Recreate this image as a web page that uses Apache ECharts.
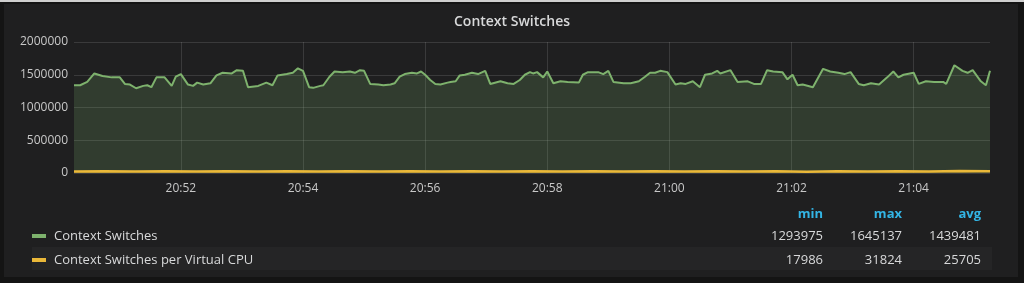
<!DOCTYPE html>
<html>
<head>
<meta charset="utf-8">
<script src="https://cdn.jsdelivr.net/npm/echarts@6/dist/echarts.min.js"></script>
<style>
html,body{margin:0;padding:0;background:#141414;}
#c{width:1024px;height:283px;}
</style>
</head>
<body>
<div id="c"></div>
<script>
// seconds after 20:50:00 and values for "Context Switches"
const csSecs = [15,21,28,35,43,52,60,65,70,76,83,87,91,96,104,111,115,120,127,132,136,142,149,155,161,170,175,181,186,196,204,210,215,224,230,235,240,246,250,257,260,266,271,279,286,291,296,300,306,314,319,326,330,335,340,347,352,356,360,365,370,375,382,385,390,394,399,406,412,419,424,434,441,447,453,458,463,466,470,476,480,486,493,500,511,515,520,530,535,540,545,555,562,570,576,581,586,591,598,606,611,616,623,630,635,642,647,650,660,667,677,683,690,696,702,711,716,721,726,731,741,751,758,766,772,778,786,791,798,806,814,820,825,830,840,845,852,860,869,872,880,888,893,898,906,911,915];
const csValues = [1340000,1340000,1390000,1520000,1480000,1460000,1460000,1360000,1350000,1293975,1330000,1340000,1310000,1460000,1460000,1330000,1470000,1510000,1350000,1330000,1380000,1350000,1370000,1490000,1530000,1520000,1570000,1560000,1310000,1330000,1380000,1340000,1490000,1510000,1530000,1598000,1560000,1310000,1300000,1330000,1340000,1470000,1550000,1540000,1550000,1530000,1570000,1560000,1360000,1350000,1340000,1350000,1370000,1470000,1510000,1530000,1520000,1550000,1500000,1420000,1360000,1350000,1380000,1390000,1400000,1490000,1500000,1530000,1510000,1560000,1360000,1400000,1370000,1360000,1420000,1500000,1540000,1520000,1540000,1460000,1550000,1370000,1400000,1390000,1380000,1500000,1540000,1540000,1510000,1560000,1390000,1370000,1370000,1400000,1470000,1530000,1530000,1560000,1540000,1350000,1370000,1360000,1400000,1310000,1500000,1520000,1560000,1520000,1570000,1390000,1400000,1360000,1360000,1570000,1550000,1540000,1430000,1500000,1340000,1350000,1310000,1590000,1550000,1530000,1510000,1540000,1360000,1340000,1370000,1350000,1460000,1550000,1460000,1500000,1530000,1360000,1400000,1390000,1390000,1360000,1645137,1560000,1530000,1570000,1400000,1340000,1560000];
// seconds after 20:50:00 and values for "Context Switches per Virtual CPU"
const cpuSecs = [15,45,75,105,135,165,195,225,255,285,315,345,375,405,435,465,495,525,555,585,615,645,675,705,735,765,795,825,855,885,915];
const cpuValues = [24000,26500,23000,25500,24000,27000,23500,26500,22000,27500,23500,26500,24000,27000,24500,27000,24000,27500,23500,26500,24000,27500,24000,27000,17986,26500,24000,26000,24500,31824,27000];

const seriesNames = ['Context Switches','Context Switches per Virtual CPU'];
const seriesColors = ['#7eb26d','#eab839'];
const statHeaders = ['min','max','avg'];
const statRows = [[1293975,1645137,1439481],[17986,31824,25705]];
const yTicks = [0,500000,1000000,1500000,2000000];
const xTickSecs = [120,240,360,480,600,720,840]; // 20:52 ... 21:04
const startSec = 15, endSec = 915;
const baseHour = 20, baseMinute = 50;

const pad = n => (n<10?'0':'')+n;
const secLabel = s => {
  const total = baseHour*60 + baseMinute + Math.round(s/60);
  return pad(Math.floor(total/60)%24)+':'+pad(total%60);
};

const chart = echarts.init(document.getElementById('c'));
const font = '"Open Sans", "DejaVu Sans", sans-serif';
const statX = [823, 902, 981];

const graphics = [
  {type:'rect', z:-10, silent:true, shape:{x:0,y:0,width:1024,height:2}, style:{fill:'#cfcfcf'}},
  {type:'rect', z:-10, silent:true, shape:{x:4,y:4,width:1014,height:273}, style:{fill:'#1f1f20'}},
  {type:'rect', z:-9, silent:true, shape:{x:32,y:247,width:960,height:23}, style:{fill:'#252526'}}
];
statHeaders.forEach((h,i)=>{
  graphics.push({type:'text', x:statX[i], y:214, style:{text:h, fill:'#33b5e5', font:'bold 13px '+font, align:'right', verticalAlign:'middle'}});
});
statRows.forEach((row,r)=>{
  row.forEach((v,i)=>{
    graphics.push({type:'text', x:statX[i], y:236+r*24, style:{text:String(v), fill:'#d8d9da', font:'13px '+font, align:'right', verticalAlign:'middle'}});
  });
});

chart.setOption({
  backgroundColor:'#141414',
  animation:false,
  title:{text:'Context Switches', left:'center', top:10, textStyle:{color:'#d8d9da', fontSize:14, fontWeight:600, fontFamily:font}},
  grid:{left:74, right:34, top:42, bottom:110},
  legend:{
    orient:'vertical', left:32, top:228, padding:0, itemGap:8, itemWidth:14, itemHeight:4, icon:'rect',
    data:seriesNames,
    textStyle:{color:'#d8d9da', fontSize:13, fontFamily:font, lineHeight:16, padding:[0,0,0,3]}
  },
  xAxis:{
    type:'value', min:startSec, max:endSec,
    axisLine:{show:false},
    axisTick:{show:false, customValues:xTickSecs},
    axisLabel:{color:'#c8c8c8', fontSize:12, fontFamily:font, margin:10, customValues:xTickSecs, formatter:secLabel},
    splitLine:{show:true, lineStyle:{color:'rgba(255,255,255,0.12)', width:1}}
  },
  yAxis:{
    type:'value', min:yTicks[0], max:yTicks[yTicks.length-1], interval:yTicks[1]-yTicks[0],
    axisLine:{show:false}, axisTick:{show:false},
    axisLabel:{color:'#c8c8c8', fontSize:12, fontFamily:font, margin:6, formatter:v=>String(v)},
    splitLine:{lineStyle:{color:'rgba(255,255,255,0.12)', width:1}}
  },
  series:[
    {name:seriesNames[0], type:'line', showSymbol:false, symbol:'none',
     data:csSecs.map((s,i)=>[s, csValues[i]]),
     lineStyle:{color:seriesColors[0], width:2}, itemStyle:{color:seriesColors[0]},
     areaStyle:{color:seriesColors[0], opacity:0.2}},
    {name:seriesNames[1], type:'line', showSymbol:false, symbol:'none',
     data:cpuSecs.map((s,i)=>[s, cpuValues[i]]),
     lineStyle:{color:seriesColors[1], width:2.5}, itemStyle:{color:seriesColors[1]},
     areaStyle:{color:seriesColors[1], opacity:0.2}}
  ],
  graphic:graphics
});
</script>
</body>
</html>
